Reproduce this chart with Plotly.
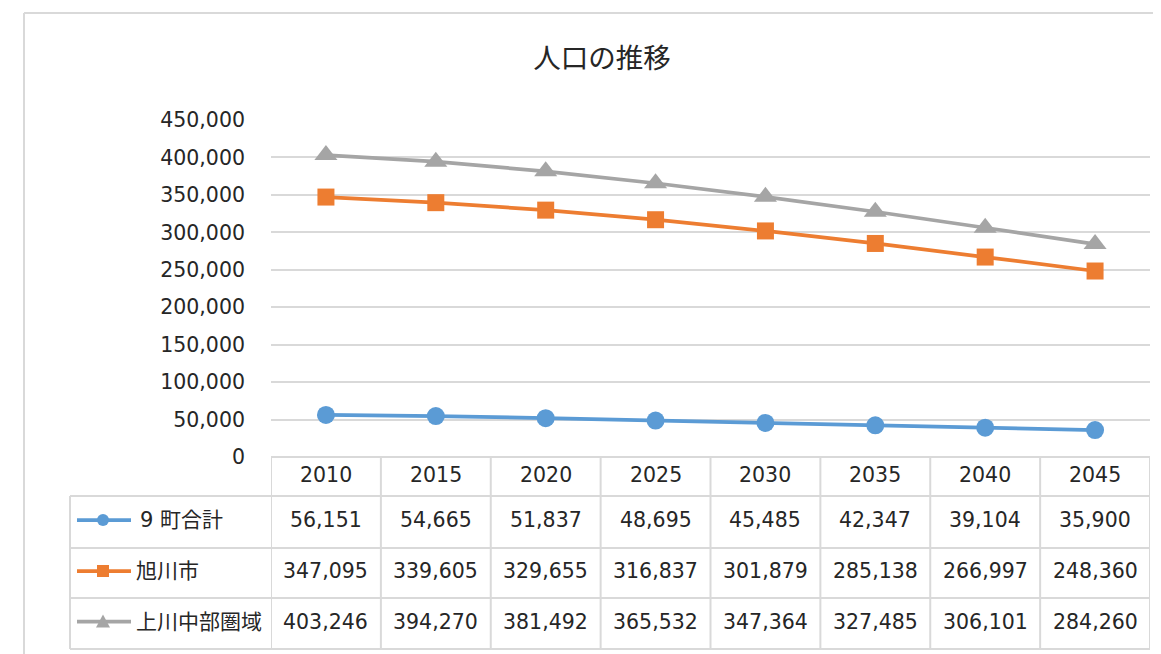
import plotly.graph_objects as go

years = ["2010", "2015", "2020", "2025", "2030", "2035", "2040", "2045"]
series_names = ["9町合計", "旭川市", "上川中部圏域"]
town9 = [56151, 54665, 51837, 48695, 45485, 42347, 39104, 35900]
asahikawa = [347095, 339605, 329655, 316837, 301879, 285138, 266997, 248360]
kamikawa = [403246, 394270, 381492, 365532, 347364, 327485, 306101, 284260]
y_ticks = [0, 50000, 100000, 150000, 200000, 250000, 300000, 350000, 400000, 450000]
title_text = "人口の推移"

W, H = 1161, 654
OFF = 8  # page body margin offset
def px(x):
    return (x - OFF) / W
def py(y):
    return 1 - (y - OFF) / H

colors = ["#5B9BD5", "#ED7D31", "#A5A5A5"]
symbols = ["circle", "square", "triangle-up"]
sizes = [18, 17, 20]
values = [town9, asahikawa, kamikawa]
FONT = "DejaVu Sans, Noto Sans CJK JP"
GRID = "#d9d9d9"
TXT = "#262626"

fig = go.Figure()
xs = list(range(len(years)))
for name, vals, c, s, sz in zip(series_names, values, colors, symbols, sizes):
    fig.add_trace(go.Scatter(
        x=xs, y=vals, name=name, mode="lines+markers",
        line=dict(color=c, width=3.75),
        marker=dict(symbol=s, size=sz, color=c),
        showlegend=False, cliponaxis=False,
    ))

shapes = []
annotations = []

# outer chart border (top and left edges; right/bottom lie off-page)
shapes.append(dict(type="line", xref="paper", yref="paper", x0=px(24), x1=1, y0=py(13), y1=py(13),
                   line=dict(color=GRID, width=2)))
shapes.append(dict(type="line", xref="paper", yref="paper", x0=px(24), x1=px(24), y0=0, y1=py(13),
                   line=dict(color=GRID, width=2)))

# table geometry
header_top, header_bot = 457, 496
row_bounds = [496, 548, 598, 649]
table_left = 70
n = len(years)

shapes.append(dict(type="line", xref="x", yref="paper", x0=-0.5, x1=n - 0.5,
                   y0=py(header_top), y1=py(header_top), line=dict(color=GRID, width=2)))
for yb in row_bounds:
    shapes.append(dict(type="line", xref="paper", yref="paper", x0=px(table_left), x1=px(1150),
                       y0=py(yb), y1=py(yb), line=dict(color=GRID, width=2)))
for i in range(n + 1):
    shapes.append(dict(type="line", xref="x", yref="paper", x0=i - 0.5, x1=i - 0.5,
                       y0=py(row_bounds[-1]), y1=py(header_top), line=dict(color=GRID, width=2)))
shapes.append(dict(type="line", xref="paper", yref="paper", x0=px(table_left), x1=px(table_left),
                   y0=py(row_bounds[-1]), y1=py(row_bounds[0]), line=dict(color=GRID, width=2)))

# header years
for i, yr in enumerate(years):
    annotations.append(dict(x=i, y=py((header_top + header_bot) / 2 - 1), xref="x", yref="paper",
                            text=yr, showarrow=False, font=dict(size=20.5, color=TXT, family=FONT),
                            xanchor="center", yanchor="middle"))

# rows
label_x = [138, 134, 134]
for r, (name, vals, c, s) in enumerate(zip(series_names, values, colors, symbols)):
    yc = (row_bounds[r] + row_bounds[r + 1]) / 2 - 2
    for i, v in enumerate(vals):
        annotations.append(dict(x=i, y=py(yc), xref="x", yref="paper",
                                text=f"{v:,}", showarrow=False,
                                font=dict(size=20.5, color=TXT, family=FONT),
                                xanchor="center", yanchor="middle"))
    label = name if r != 0 else "9 町合計"
    annotations.append(dict(x=px(label_x[r]), y=py(yc), xref="paper", yref="paper",
                            text=label, showarrow=False,
                            font=dict(size=21, color=TXT, family=FONT),
                            xanchor="left", yanchor="middle"))
    shapes.append(dict(type="line", xref="paper", yref="paper", x0=px(77), x1=px(131),
                       y0=py(yc), y1=py(yc), line=dict(color=c, width=3.75)))
    cx, cy = 103, yc
    if s == "circle":
        shapes.append(dict(type="circle", xref="paper", yref="paper", x0=px(cx - 6), x1=px(cx + 6),
                           y0=py(cy + 6), y1=py(cy - 6), fillcolor=c, line=dict(color=c, width=0)))
    elif s == "square":
        shapes.append(dict(type="rect", xref="paper", yref="paper", x0=px(cx - 6), x1=px(cx + 6),
                           y0=py(cy + 6), y1=py(cy - 6), fillcolor=c, line=dict(color=c, width=0)))
    else:
        shapes.append(dict(type="path", xref="paper", yref="paper",
                           path=f"M {px(cx - 7)} {py(cy + 6)} L {px(cx + 7)} {py(cy + 6)} L {px(cx)} {py(cy - 7)} Z",
                           fillcolor=c, line=dict(color=c, width=0)))

fig.update_layout(
    width=W, height=H,
    margin=dict(l=0, r=0, t=0, b=0, pad=0, autoexpand=False),
    paper_bgcolor="white", plot_bgcolor="white",
    title=dict(text=title_text, x=px(602), xanchor="center", y=py(58), yanchor="middle",
               automargin=False, font=dict(size=27.5, color=TXT, family="Noto Sans CJK JP")),
    xaxis=dict(domain=[px(271), px(1150)], range=[-0.5, n - 0.5], showgrid=False, automargin=False,
               showticklabels=False, zeroline=False, showline=False, ticks="", fixedrange=True),
    yaxis=dict(domain=[py(457), py(120)], range=[0, 450000], tickvals=y_ticks, automargin=False,
               ticktext=[f"{v:,}" for v in y_ticks], showgrid=True, gridcolor=GRID, gridwidth=1.5,
               zeroline=False, showline=False, ticks="", ticklabelstandoff=25,
               tickfont=dict(size=20.5, color=TXT, family=FONT)),
    shapes=shapes, annotations=annotations,
)

fig.write_html("out.html")
